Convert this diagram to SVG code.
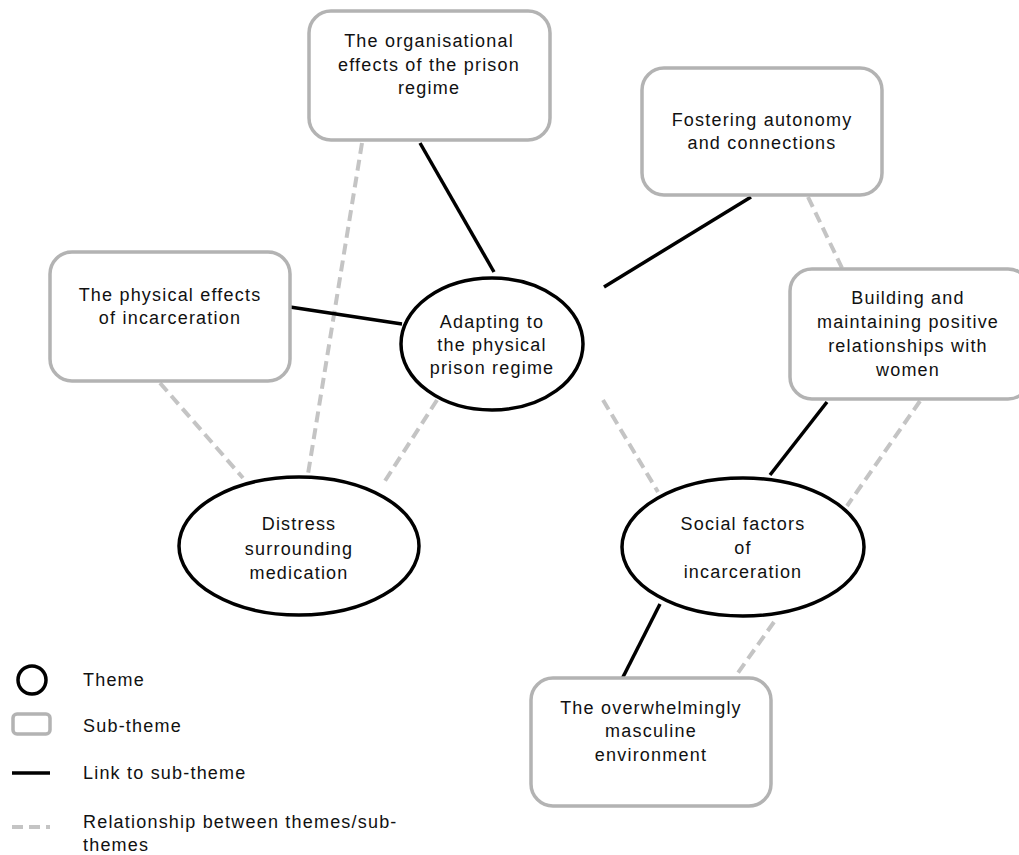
<svg xmlns="http://www.w3.org/2000/svg" width="1019" height="855" viewBox="0 0 1019 855">
<style>
.sub{fill:#fff;stroke:#b3b3b3;stroke-width:3.5}
.theme{fill:#fff;stroke:#000;stroke-width:3.5}
.link{stroke:#000;stroke-width:3.5;fill:none}
.rel{stroke:#c4c4c4;stroke-width:4;stroke-dasharray:11 6;fill:none}
text{font-family:"Liberation Sans",Arial,sans-serif;font-size:18px;letter-spacing:1.2px;fill:#111;text-anchor:middle}
.leg{text-anchor:start}
</style>
<rect width="1019" height="855" fill="#fff"/>
<g id="connectors">
<line class="rel" x1="362" y1="143" x2="308" y2="474"/>
<line class="rel" x1="160" y1="383" x2="243" y2="478"/>
<line class="rel" x1="437" y1="400" x2="383" y2="484"/>
<line class="rel" x1="603" y1="400" x2="658" y2="492"/>
<line class="rel" x1="808" y1="197" x2="842" y2="268"/>
<line class="rel" x1="920" y1="401" x2="847" y2="506"/>
<line class="rel" x1="774" y1="622" x2="735" y2="677"/>
<line class="link" x1="420" y1="143" x2="494" y2="272"/>
<line class="link" x1="751" y1="197" x2="604" y2="287"/>
<line class="link" x1="290" y1="307" x2="402" y2="324"/>
<line class="link" x1="827" y1="402" x2="770" y2="475"/>
<line class="link" x1="660" y1="604" x2="622" y2="679"/>
</g>
<g id="n-org">
<rect class="sub" x="309" y="11" width="241" height="129" rx="22"/>
<text x="429" y="47">The organisational</text>
<text x="429" y="71">effects of the prison</text>
<text x="429" y="94">regime</text>
</g>
<g id="n-fostering">
<rect class="sub" x="642" y="68" width="240" height="127" rx="22"/>
<text x="762" y="126">Fostering autonomy</text>
<text x="762" y="149">and connections</text>
</g>
<g id="n-physical">
<rect class="sub" x="50" y="252" width="240" height="129" rx="22"/>
<text x="170" y="301">The physical effects</text>
<text x="170" y="324">of incarceration</text>
</g>
<g id="n-building">
<rect class="sub" x="790" y="269" width="240" height="130" rx="22"/>
<text x="908" y="304">Building and</text>
<text x="908" y="328">maintaining positive</text>
<text x="908" y="352">relationships with</text>
<text x="908" y="376">women</text>
</g>
<g id="n-masculine">
<rect class="sub" x="531" y="678" width="240" height="128" rx="22"/>
<text x="651" y="714">The overwhelmingly</text>
<text x="651" y="737">masculine</text>
<text x="651" y="761">environment</text>
</g>
<g id="n-adapting">
<ellipse class="theme" cx="492" cy="344" rx="91" ry="66"/>
<text x="492" y="328">Adapting to</text>
<text x="492" y="351">the physical</text>
<text x="492" y="374">prison regime</text>
</g>
<g id="n-distress">
<ellipse class="theme" cx="299" cy="546" rx="120" ry="69"/>
<text x="299" y="530">Distress</text>
<text x="299" y="555">surrounding</text>
<text x="299" y="579">medication</text>
</g>
<g id="n-social">
<ellipse class="theme" cx="743" cy="547" rx="121" ry="69"/>
<text x="743" y="530">Social factors</text>
<text x="743" y="554">of</text>
<text x="743" y="578">incarceration</text>
</g>
<g id="legend">
<circle class="theme" cx="32" cy="680" r="14"/>
<text class="leg" x="83" y="686">Theme</text>
<rect class="sub" x="13" y="714" width="37" height="20" rx="4" stroke-width="3"/>
<text class="leg" x="83" y="732">Sub-theme</text>
<line class="link" x1="12" y1="773" x2="50" y2="773"/>
<text class="leg" x="83" y="779">Link to sub-theme</text>
<line class="rel" x1="12" y1="827" x2="50" y2="827" stroke-dasharray="4 3 8 3 8 3"/>
<text class="leg" x="83" y="828">Relationship between themes/sub-</text>
<text class="leg" x="83" y="851">themes</text>
</g>
</svg>
